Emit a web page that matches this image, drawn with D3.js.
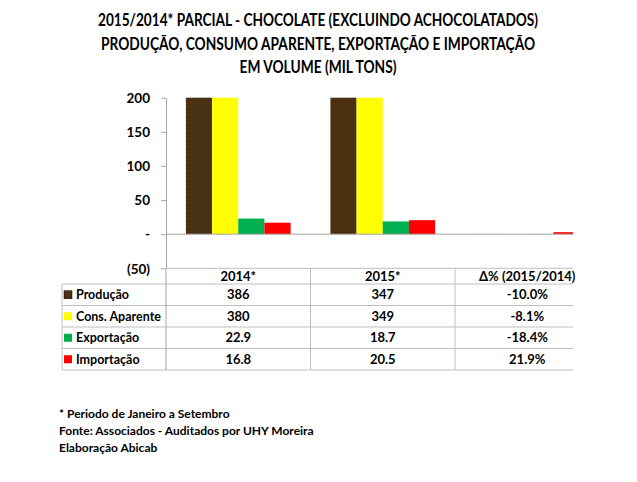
<!DOCTYPE html>
<html>
<head>
<meta charset="utf-8">
<script src="https://cdnjs.cloudflare.com/ajax/libs/d3/7.8.5/d3.min.js"></script>
<style>
  body { margin: 0; background: #fff; }
  #plot { width: 637px; height: 482px; }
  #plot text { font-family: Lato, "Open Sans", sans-serif; font-weight: bold; fill: #000; }
</style>
</head>
<body>
<div id="plot"></div>
<script>
// data
var categories = ["2014*", "2015*", "\u0394% (2015/2014)"];
var series = ["Produção", "Cons. Aparente", "Exportação", "Importação"];
var colors = ["url(#brownTex)", "#FFFF00", "#00B050", "#FF0000"];
var keyColors = ["#4b3011", "#FFFF00", "#00B050", "#FF0000"];
var v2014 = [386, 380, 22.9, 16.8];
var v2015 = [347, 349, 18.7, 20.5];
var deltaPct = [-10.0, -8.1, -18.4, 21.9];
var yTicks = [-50, 0, 50, 100, 150, 200];
var titleLines = [
    "2015/2014* PARCIAL - CHOCOLATE (EXCLUINDO ACHOCOLATADOS)",
    "PRODUÇÃO, CONSUMO APARENTE, EXPORTAÇÃO E IMPORTAÇÃO",
    "EM VOLUME (MIL TONS)"
];
var notes = [
    "* Periodo de Janeiro a Setembro",
    "Fonte: Associados - Auditados por UHY Moreira",
    "Elaboração Abicab"
];

var width = 637, height = 482;
var left = 166, step = 144.5, clipRight = 573;
var yTop = 97.7, yBottom = 268.3;

var svg = d3.select("#plot").append("svg")
    .attr("width", width)
    .attr("height", height);

// brown bars have a speckled texture in the original
var defs = svg.append("defs");
var pat = defs.append("pattern")
    .attr("id", "brownTex")
    .attr("patternUnits", "userSpaceOnUse")
    .attr("width", 4).attr("height", 4);
pat.append("rect").attr("width", 4).attr("height", 4).attr("fill", "#4d3312");
pat.append("rect").attr("x", 0).attr("y", 0).attr("width", 1).attr("height", 1).attr("fill", "#2f1e08");
pat.append("rect").attr("x", 2).attr("y", 2).attr("width", 1).attr("height", 1).attr("fill", "#2f1e08");

defs.append("clipPath").attr("id", "plotClip")
    .append("rect")
    .attr("x", left).attr("y", 0)
    .attr("width", clipRight - left).attr("height", height);

// title
var titleWidths = [440, 434, 157];
svg.append("g").selectAll("text")
    .data(titleLines)
    .enter().append("text")
    .attr("x", 318)
    .attr("y", function(d, i) { return 26 + i * 23.5; })
    .attr("text-anchor", "middle")
    .attr("textLength", function(d, i) { return titleWidths[i]; })
    .attr("lengthAdjust", "spacingAndGlyphs")
    .style("font-size", "16.5px")
    .text(function(d) { return d; });

// scales
var x0 = d3.scaleBand()
    .domain(categories)
    .range([left, left + step * categories.length])
    .padding(0);
var x1 = d3.scaleBand()
    .domain(series)
    .range([0, x0.bandwidth()])
    .paddingInner(0)
    .paddingOuter(0.76);
var y = d3.scaleLinear()
    .domain([-50, 200])
    .range([yBottom, yTop]);

// rows: one value per series per category (delta plotted as fraction like the sheet)
var rows = categories.map(function(c, ci) {
    return series.map(function(s, si) {
        var v = ci === 0 ? v2014[si] : ci === 1 ? v2015[si] : deltaPct[si] / 100;
        return {cat: c, series: s, si: si, value: v};
    });
});

var body = svg.append("g").attr("clip-path", "url(#plotClip)");

body.selectAll(".grp")
    .data(rows)
    .enter().append("g")
    .attr("class", "grp")
    .attr("transform", function(d) { return "translate(" + x0(d[0].cat) + ",0)"; })
    .selectAll("rect")
    .data(function(d) { return d; })
    .enter().append("rect")
    .attr("x", function(d) { return x1(d.series); })
    .attr("width", x1.bandwidth())
    .attr("y", function(d) {
        var top = y(Math.min(d.value, 200));
        if (d.value > 0) top = Math.min(top, y(0) - 2);
        return d.value >= 0 ? top : y(0);
    })
    .attr("height", function(d) {
        if (d.value > 0) return Math.max(y(0) - y(Math.min(d.value, 200)), 2);
        return y(d.value) - y(0);
    })
    .attr("fill", function(d) { return colors[d.si]; });

// zero line
body.append("line")
    .attr("x1", left).attr("x2", clipRight)
    .attr("y1", y(0)).attr("y2", y(0))
    .attr("stroke", "#a6a6a6").attr("stroke-width", 1);

// y axis
var yAxis = d3.axisLeft(y)
    .tickValues(yTicks)
    .tickSize(5)
    .tickPadding(11)
    .tickSizeOuter(0)
    .tickFormat(function(d) { return d === 0 ? "-" : d < 0 ? "(" + Math.abs(d) + ")" : d; });

var ax = svg.append("g")
    .attr("transform", "translate(" + left + ",0)")
    .call(yAxis);
ax.select(".domain").attr("stroke", "#a6a6a6");
ax.selectAll(".tick line").attr("stroke", "#a6a6a6");
ax.selectAll(".tick text").style("font-size", "13.5px").attr("dy", "0.35em");

// data table under the plot
var tableTop = yBottom, headBottom = 284, rowH = 21.5, legLeft = 62;
var tableRows = series.map(function(s, i) {
    return [s, String(v2014[i]), String(v2015[i]), deltaPct[i].toFixed(1) + "%"];
});
var table = svg.append("g");
var lineColor = "#bfbfbf";

// header row top border
table.append("line")
    .attr("x1", left).attr("x2", clipRight)
    .attr("y1", tableTop).attr("y2", tableTop)
    .attr("stroke", lineColor);
// row borders
d3.range(series.length + 1).forEach(function(i) {
    var yy = headBottom + i * rowH;
    table.append("line")
        .attr("x1", legLeft).attr("x2", clipRight)
        .attr("y1", yy).attr("y2", yy)
        .attr("stroke", lineColor);
});
var tableBottom = headBottom + series.length * rowH;
// vertical borders
table.append("line")
    .attr("x1", legLeft).attr("x2", legLeft)
    .attr("y1", headBottom).attr("y2", tableBottom)
    .attr("stroke", lineColor);
categories.forEach(function(c) {
    var xx = x0(c);
    table.append("line")
        .attr("x1", xx).attr("x2", xx)
        .attr("y1", xx === left ? yBottom : tableTop).attr("y2", tableBottom)
        .attr("stroke", xx === left ? "#a6a6a6" : lineColor);
});

// header labels
table.selectAll(".head")
    .data(categories)
    .enter().append("text")
    .attr("class", "head")
    .attr("x", function(d) { return x0(d) + x0.bandwidth() / 2; })
    .attr("y", (tableTop + headBottom) / 2)
    .attr("dy", "0.35em")
    .attr("text-anchor", "middle")
    .style("font-size", "13px")
    .text(function(d) { return d; });

// legend keys + names
var rowG = table.selectAll(".trow")
    .data(tableRows)
    .enter().append("g")
    .attr("class", "trow")
    .attr("transform", function(d, i) { return "translate(0," + (headBottom + i * rowH + rowH / 2) + ")"; });

rowG.append("rect")
    .attr("x", 64).attr("y", -4)
    .attr("width", 8).attr("height", 8)
    .attr("fill", function(d, i) { return keyColors[i]; })
    .attr("stroke", function(d, i) { return i === 0 ? "#000" : "none"; })
    .attr("stroke-width", 0.5);

rowG.append("text")
    .attr("x", 76)
    .attr("dy", "0.35em")
    .style("font-size", "12.5px")
    .text(function(d) { return d[0]; });

rowG.selectAll(".val")
    .data(function(d) { return d.slice(1); })
    .enter().append("text")
    .attr("class", "val")
    .attr("x", function(d, i) { return x0(categories[i]) + x0.bandwidth() / 2; })
    .attr("dy", "0.35em")
    .attr("text-anchor", "middle")
    .style("font-size", "13px")
    .text(function(d) { return d; });

// footnotes
svg.append("g").selectAll("text")
    .data(notes)
    .enter().append("text")
    .attr("x", 59)
    .attr("y", function(d, i) { return 418 + i * 17; })
    .style("font-size", "12px")
    .text(function(d) { return d; });
</script>
</body>
</html>
